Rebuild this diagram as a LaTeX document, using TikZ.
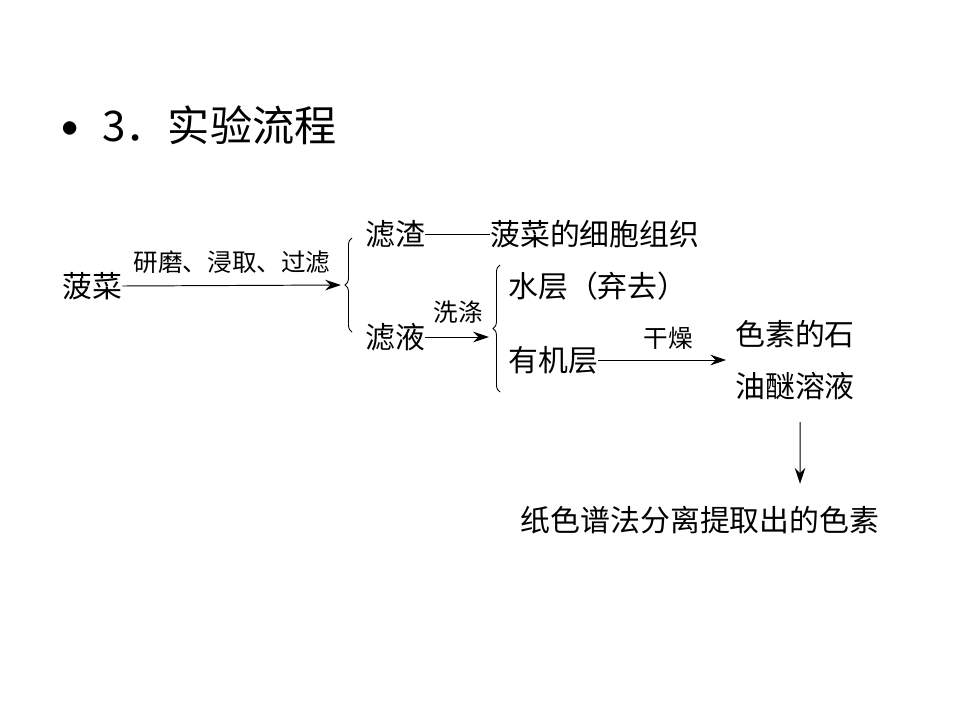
\documentclass[tikz,border=0pt]{standalone}
\usepackage{fontspec}
\newfontfamily\cjk{Noto Sans CJK SC}
\usetikzlibrary{arrows.meta,decorations.pathreplacing}
\tikzset{
  txt/.style={inner sep=0pt, font=\cjk\fontsize{17pt}{29.6pt}\selectfont},
  lbl/.style={inner sep=0pt, font=\cjk\fontsize{14pt}{17pt}\selectfont},
  head/.style={inner sep=0pt, font=\cjk\fontsize{24pt}{28pt}\selectfont},
  arr/.style={-{Stealth[length=9pt,width=6pt]}, line width=0.55pt},
  curly/.style={decorate, decoration={brace, amplitude=4pt, mirror}, line width=0.5pt},
}
\begin{document}
\begin{tikzpicture}[x=0.02cm, y=-0.02cm]
  \useasboundingbox (0,0) rectangle (960,720);
  % title
  \node [head, font=\cjk\fontsize{36pt}{40pt}\selectfont] (dot) at (70,137) {•};
  \node [head, anchor=west] (title) at (102,125) {3．实验流程};
  % first step
  \node [txt, anchor=west] (spinach) at (62,286) {菠菜};
  \coordinate (b1) at (341,285);
  \draw [arr] (spinach.east) -- (b1);
  \node [lbl] (grind) at (232,262) {研磨、浸取、过滤};
  \draw [curly] (352,238) -- (352,332);
  \node [txt, anchor=west] (residue) at (365,234) {滤渣};
  \node [txt, anchor=west] (tissue) at (490,234) {菠菜的细胞组织};
  \draw [line width=0.5pt] (residue.east) -- (tissue.west);
  \node [txt, anchor=west] (filtrate) at (365,337) {滤液};
  \coordinate (b2) at (489,337);
  \draw [arr] (filtrate.east) -- (b2);
  \node [lbl] (wash) at (458,312) {洗涤};
  % second step
  \draw [curly] (500,265) -- (500,392);
  \node [txt, anchor=west] (water) at (508,286) {水层（弃去）};
  \node [txt, anchor=west] (organic) at (508,360) {有机层};
  \node [txt, anchor=west, align=left] (solution) at (735,360) {色素的石\\油醚溶液};
  \draw [arr, shorten >=5] (organic.east) -- (solution.west);
  \node [lbl] (dry) at (668,338) {干燥};
  \node [txt] (pigment) at (700,520) {纸色谱法分离提取出的色素};
  \draw [arr] ([shift={(5,22)}]solution.south) -- ([shift={(100,-22)}]pigment.north);
\end{tikzpicture}
\end{document}
